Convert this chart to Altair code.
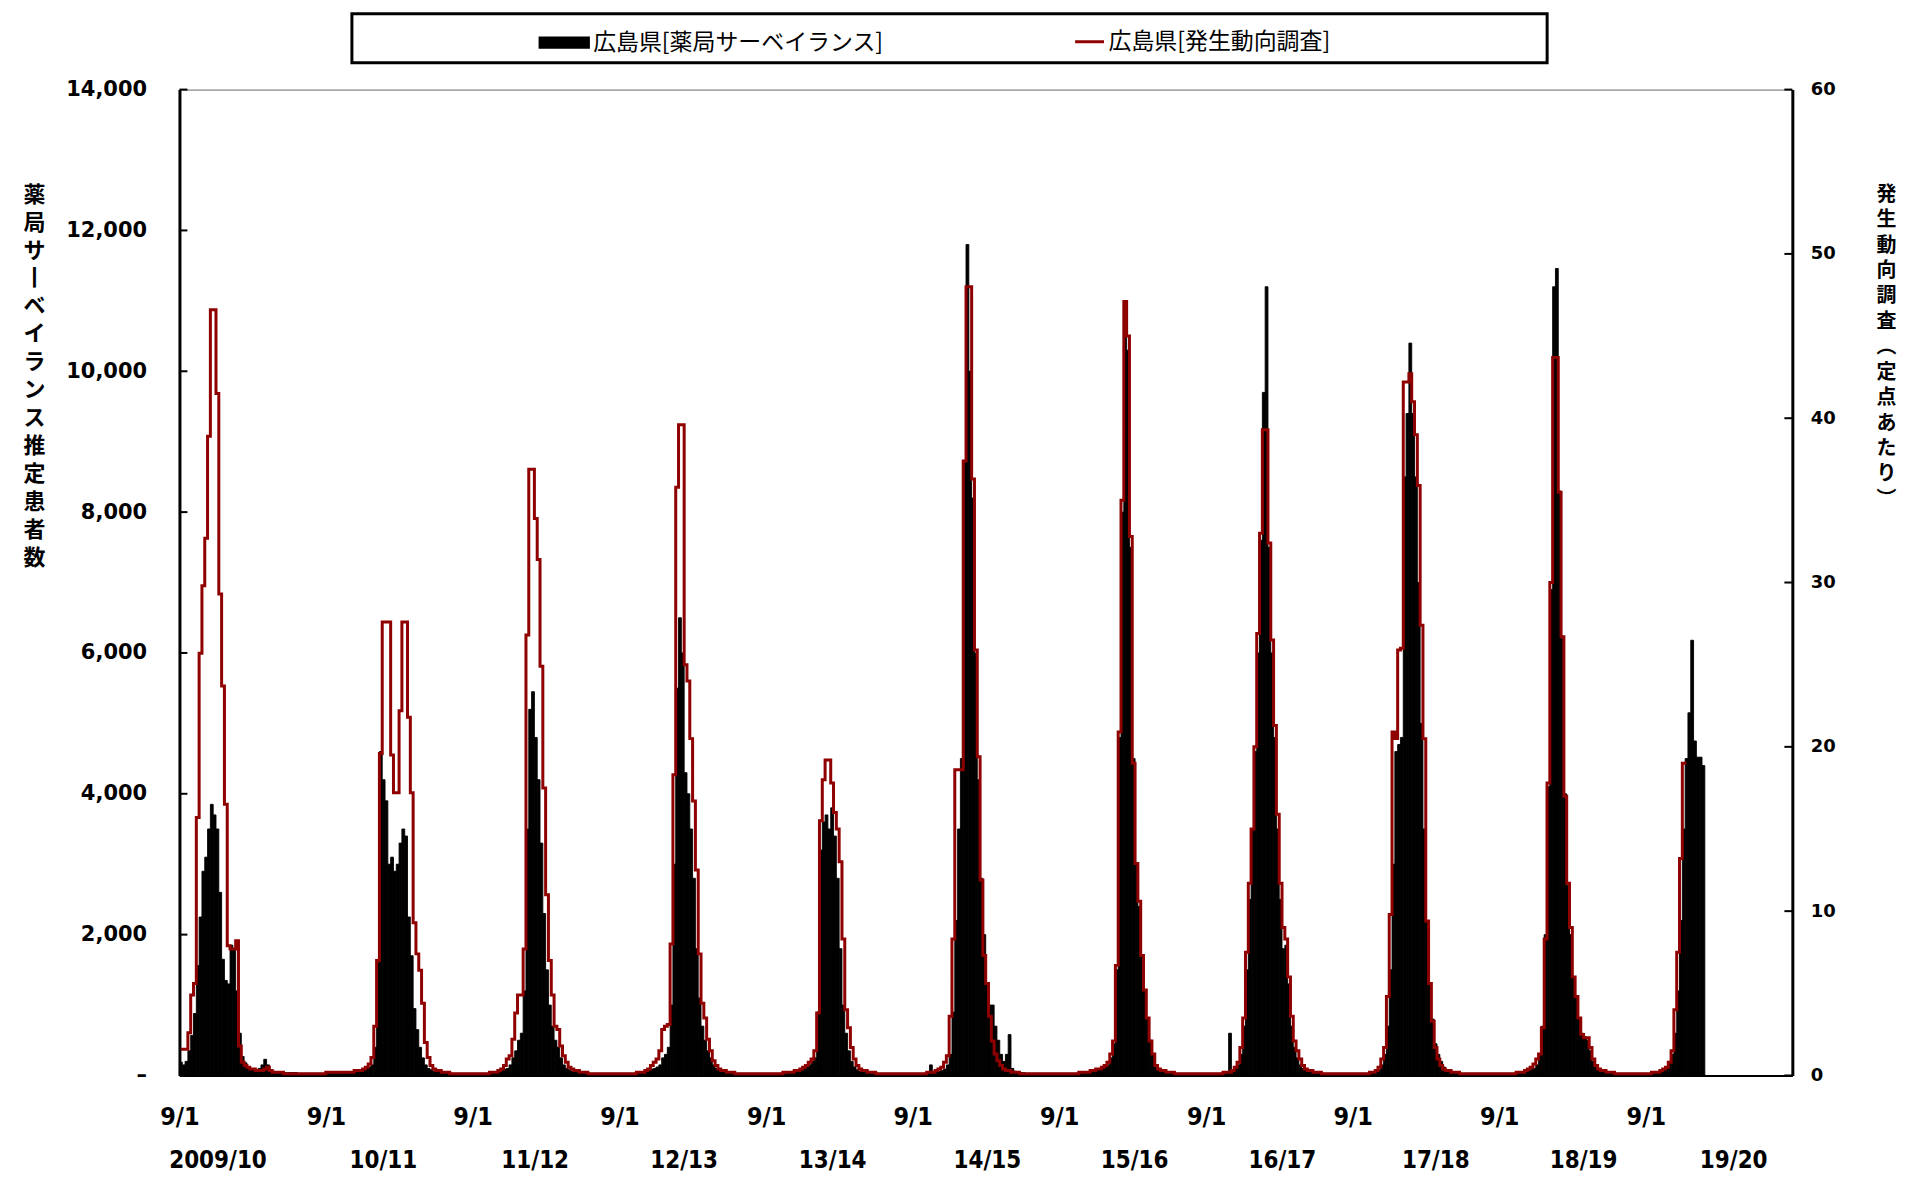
import altair as alt
import pandas as pd

S1 = "広島県[薬局サーベイランス]"
S2 = "広島県[発生動向調査]"

season_years = [2009, 2010, 2011, 2012, 2013, 2014, 2015, 2016, 2017, 2018, 2019]
season_labels = ["2009/10", "10/11", "11/12", "12/13", "13/14", "14/15",
                 "15/16", "16/17", "17/18", "18/19", "19/20"]
season_label_dates = ["2009-12-06", "2011-01-22", "2012-02-04", "2013-02-09", "2014-02-14",
                      "2015-03-06", "2016-03-07", "2017-03-10", "2018-03-27", "2019-03-30",
                      "2020-04-07"]

# weekly values per season, week k starts on Sep 1 + 7k days
pharm_0910 = [190,150,200,350,570,880,1560,2250,2900,3100,3500,3850,3700,3500,2600,1650,1350,1300,1850,1800,1200,600,270,180,120,100,90,80,100,150,230,150,80,60,50,50,40,40,40,40,40,40,30,30,30,30,30,30,30,30,30,30]
pharm_1011 = [30,30,30,30,30,30,40,40,40,40,50,50,60,80,100,120,150,400,1600,4600,4200,3900,3000,3100,2900,3000,3300,3500,3400,2250,1700,950,650,400,250,150,100,80,60,50,50,40,40,40,30,30,30,30,30,30,30,30]
pharm_1112 = [30,30,30,30,30,30,40,40,50,60,70,90,100,150,250,350,500,600,1200,3500,5200,5450,4800,4200,3300,2300,1500,1000,700,500,400,250,150,100,80,60,50,40,40,40,30,30,30,30,30,30,30,30,30,30,30,30]
pharm_1213 = [30,30,30,30,30,30,40,40,50,60,70,90,100,120,150,250,300,400,1000,3000,5500,6500,6000,4300,4000,3500,2800,1800,1100,700,500,350,250,150,100,80,60,50,40,40,30,30,30,30,30,30,30,30,30,30,30,30]
pharm_1314 = [30,30,30,30,30,30,40,40,50,50,60,70,80,100,120,150,200,250,900,3200,3600,3700,3500,3800,3400,2800,1800,1000,600,350,200,120,80,60,50,40,40,30,30,30,30,30,30,30,30,30,30,30,30,30,30,30]
pharm_1415 = [30,30,30,30,30,40,150,40,50,60,70,90,150,300,900,2200,3500,4500,8700,11800,10000,8200,6000,4200,2800,2000,1300,1000,1000,700,500,300,200,300,580,100,60,50,40,40,30,30,30,30,30,30,30,30,30,30,30,30]
pharm_1516 = [30,30,30,30,30,30,30,40,40,40,50,50,60,70,80,100,120,150,250,450,1500,4800,8000,10800,10300,7500,4500,3000,2400,1700,1200,800,500,300,150,100,80,60,50,40,40,30,30,30,30,30,30,30,30,30,30,30]
pharm_1617 = [30,30,30,30,30,30,40,40,600,60,100,150,300,700,1500,2500,3500,4600,6000,7600,9700,11200,7500,6000,4800,3500,2500,1800,1850,1300,700,400,250,150,100,80,60,50,40,40,30,30,30,30,30,30,30,30,30,30,30,30]
pharm_1718 = [30,30,30,30,30,30,40,40,50,80,150,300,700,1500,3000,4600,4700,4800,8500,9400,10400,9400,8500,7000,5000,3500,2200,1300,800,450,300,200,120,80,60,50,40,40,30,30,30,30,30,30,30,30,30,30,30,30,30,30]
pharm_1819 = [30,30,30,30,30,30,40,40,50,60,70,90,100,150,300,700,2000,4100,6900,11200,11460,8300,6200,4000,2700,2000,1400,1100,800,600,550,500,350,200,120,80,60,50,40,40,30,30,30,30,30,30,30,30,30,30,30,30]
pharm_1920 = [30,30,40,40,50,60,80,120,200,300,600,1200,2200,3500,4500,5150,6180,4750,4520,4520,4400]

sent_0910 = [1.6,1.6,1.6,2.6,4.9,5.6,15.7,25.7,29.8,32.7,38.9,46.6,46.6,41.5,29.3,23.7,16.5,7.9,7.7,7.7,8.2,1.8,0.8,0.6,0.5,0.4,0.4,0.3,0.3,0.3,0.4,0.5,0.3,0.2,0.2,0.2,0.2,0.1,0.1,0.1,0.1,0.1,0.1,0.1,0.1,0.1,0.1,0.1,0.1,0.1,0.1,0.1]
sent_1011 = [0.2,0.2,0.2,0.2,0.2,0.2,0.2,0.2,0.2,0.2,0.3,0.3,0.3,0.4,0.5,0.7,1.1,3.0,7.0,19.6,27.6,27.6,27.6,19.5,17.2,17.2,22.2,27.6,27.6,21.8,17.2,9.3,7.4,6.4,4.4,2.0,1.1,0.6,0.4,0.3,0.3,0.2,0.2,0.2,0.1,0.1,0.1,0.1,0.1,0.1,0.1,0.1]
sent_1112 = [0.1,0.1,0.1,0.1,0.1,0.1,0.2,0.2,0.2,0.3,0.4,0.6,1.0,1.2,2.2,3.8,4.9,4.9,7.7,26.8,36.9,36.9,33.9,31.4,24.9,17.5,11.0,7.0,4.9,3.0,2.8,1.8,1.2,0.8,0.5,0.4,0.3,0.3,0.2,0.2,0.2,0.1,0.1,0.1,0.1,0.1,0.1,0.1,0.1,0.1,0.1,0.1]
sent_1213 = [0.1,0.1,0.1,0.1,0.1,0.1,0.2,0.2,0.2,0.3,0.4,0.6,0.8,1.0,1.5,2.8,3.0,3.1,8.0,18.3,35.8,39.6,39.6,25.0,24.0,20.5,16.7,12.5,7.4,4.4,3.5,2.2,1.5,0.9,0.6,0.4,0.3,0.3,0.2,0.2,0.2,0.1,0.1,0.1,0.1,0.1,0.1,0.1,0.1,0.1,0.1,0.1]
sent_1314 = [0.1,0.1,0.1,0.1,0.1,0.1,0.2,0.2,0.2,0.2,0.3,0.3,0.4,0.5,0.6,0.8,1.0,1.5,3.8,15.5,18.0,19.2,19.2,17.8,16.0,15.0,13.0,8.3,4.0,2.9,1.7,1.0,0.6,0.4,0.3,0.3,0.2,0.2,0.2,0.1,0.1,0.1,0.1,0.1,0.1,0.1,0.1,0.1,0.1,0.1,0.1,0.1]
sent_1415 = [0.1,0.1,0.1,0.1,0.1,0.2,0.2,0.2,0.3,0.4,0.5,0.8,1.2,3.6,8.3,18.6,18.6,18.6,37.4,48.0,48.0,36.3,25.9,19.4,11.9,7.3,5.6,3.6,2.1,1.3,0.9,0.6,0.4,0.3,0.3,0.2,0.2,0.2,0.1,0.1,0.1,0.1,0.1,0.1,0.1,0.1,0.1,0.1,0.1,0.1,0.1,0.1]
sent_1516 = [0.1,0.1,0.1,0.1,0.1,0.1,0.1,0.2,0.2,0.2,0.2,0.3,0.3,0.4,0.4,0.5,0.6,0.8,1.3,2.1,6.7,20.9,35.0,47.1,45.0,32.8,19.0,12.9,10.6,7.3,5.2,3.5,2.1,1.3,0.6,0.4,0.3,0.3,0.2,0.2,0.2,0.1,0.1,0.1,0.1,0.1,0.1,0.1,0.1,0.1,0.1,0.1]
sent_1617 = [0.1,0.1,0.1,0.1,0.1,0.1,0.2,0.2,0.2,0.3,0.5,0.8,1.7,3.5,7.5,11.7,15.0,20.0,26.9,33.0,39.3,39.3,32.4,26.5,21.3,15.9,11.7,9.0,8.3,6.0,3.6,2.1,1.5,1.0,0.6,0.4,0.3,0.3,0.2,0.2,0.2,0.1,0.1,0.1,0.1,0.1,0.1,0.1,0.1,0.1,0.1,0.1]
sent_1718 = [0.1,0.1,0.1,0.1,0.1,0.1,0.2,0.2,0.3,0.5,1.0,1.7,4.8,9.8,20.9,20.5,25.9,26.0,42.2,42.2,42.7,41.0,39.0,35.9,27.4,20.5,9.4,5.6,3.3,1.7,1.0,0.6,0.4,0.3,0.3,0.2,0.2,0.2,0.1,0.1,0.1,0.1,0.1,0.1,0.1,0.1,0.1,0.1,0.1,0.1,0.1,0.1]
sent_1819 = [0.1,0.1,0.1,0.1,0.1,0.1,0.2,0.2,0.2,0.3,0.4,0.5,0.7,1.0,1.3,2.9,8.3,17.8,30.0,43.7,43.7,35.5,26.7,17.0,11.7,9.0,6.0,4.8,3.5,2.5,2.3,2.3,1.7,1.0,0.6,0.4,0.3,0.3,0.2,0.2,0.2,0.1,0.1,0.1,0.1,0.1,0.1,0.1,0.1,0.1,0.1,0.1]
sent_1920 = [0.1,0.1,0.2,0.2,0.2,0.3,0.4,0.5,0.8,1.5,4.0,7.5,13.2,19.0,19.0]

pharmacy = [pharm_0910, pharm_1011, pharm_1112, pharm_1213, pharm_1314, pharm_1415,
            pharm_1516, pharm_1617, pharm_1718, pharm_1819, pharm_1920]
sentinel = [sent_0910, sent_1011, sent_1112, sent_1213, sent_1314, sent_1415,
            sent_1516, sent_1617, sent_1718, sent_1819, sent_1920]

left_ticks = [0, 2000, 4000, 6000, 8000, 10000, 12000, 14000]
right_ticks = [0, 10, 20, 30, 40, 50, 60]
left_title = list("薬局サ丨ベイランス推定患者数")
right_title = list("発生動向調査") + ["︵"] + list("定点あたり") + ["︶"]

# ---- tables ----
rows_b, rows_l = [], []
for y, vals in zip(season_years, pharmacy):
    st = pd.Timestamp(year=y, month=9, day=1)
    for k, v in enumerate(vals):
        s = st + pd.Timedelta(days=7 * k)
        rows_b.append({"start": s, "end": s + pd.Timedelta(days=7), "count": v, "series": S1})
for y, vals in zip(season_years, sentinel):
    st = pd.Timestamp(year=y, month=9, day=1)
    for k, v in enumerate(vals):
        s = st + pd.Timedelta(days=7 * k)
        rows_l.append({"mid": s + pd.Timedelta(hours=84), "rate": v, "series": S2})
bars_df = pd.DataFrame(rows_b)
line_df = pd.DataFrame(rows_l)
season_df = pd.DataFrame({"date": pd.to_datetime(season_label_dates), "label": season_labels})
lt_df = pd.DataFrame({"v": left_ticks})
rt_df = pd.DataFrame({"v": right_ticks})

W, H = 1618, 989
NARROW = "'Liberation Sans Narrow', 'DejaVu Sans Condensed', 'Roboto Condensed', 'Liberation Sans', sans-serif"
CJK = "Noto Sans CJK JP"
RED = "#8f0000"

xscale = alt.Scale(domain=[alt.DateTime(year=2009, month=9, date=1),
                           alt.DateTime(year=2020, month=8, date=31)])
xaxis = alt.Axis(values=[alt.DateTime(year=y, month=9, date=1) for y in season_years],
                 format="%-m/%-d", labelFont=NARROW, labelFontSize=25, labelFontWeight="bold",
                 labelColor="black", labelPadding=29, ticks=False, tickSize=0,
                 domainColor="black", domainWidth=2, grid=False, title=None,
                 labelBaseline="top", labelFlush=False, labelOverlap=False)

legend1 = alt.Legend(title=None, orient="none", legendX=360, legendY=-73, direction="horizontal",
                     labelFont=CJK, labelFontSize=23, labelColor="black", symbolSize=2400,
                     symbolType="M-1,-0.2H1V0.2H-1Z", symbolStrokeColor="black",
                     symbolStrokeWidth=2.5, labelLimit=0, labelOffset=3)
legend2 = alt.Legend(title=None, orient="none", legendX=897, legendY=-64, direction="horizontal",
                     labelFont=CJK, labelFontSize=23, labelColor="black", symbolSize=841,
                     symbolType="stroke", symbolStrokeWidth=3, labelLimit=0, labelOffset=3)

bars = alt.Chart(bars_df).mark_rect(stroke="black", strokeWidth=0.9).encode(
    x=alt.X("start:T", scale=xscale, axis=xaxis),
    x2="end:T",
    y=alt.Y("count:Q", scale=alt.Scale(domain=[0, 14000], nice=False),
            axis=alt.Axis(values=left_ticks,
                          labelExpr="datum.value == 0 ? '–' : format(datum.value, ',')",
                          labelFont="DejaVu Sans", labelFontSize=21, labelFontWeight="bold",
                          labelColor="black", labelPadding=33, ticks=False, tickSize=0,
                          domainColor="black", domainWidth=3, grid=False,
                          title=left_title, titleAngle=0, titleAlign="center",
                          titleBaseline="top", titleX=-146, titleY=95, titleFont=CJK,
                          titleFontSize=22, titleFontWeight="bold", titleLineHeight=28,
                          titleColor="black")),
    y2=alt.datum(0),
    fill=alt.Fill("series:N", scale=alt.Scale(domain=[S1], range=["black"]), legend=legend1),
)
lticks = alt.Chart(lt_df).mark_rule(color="black", strokeWidth=2).encode(
    y=alt.Y("v:Q"), x=alt.value(0), x2=alt.value(8))

line = alt.Chart(line_df).mark_line(interpolate="step", strokeWidth=3).encode(
    x=alt.X("mid:T", scale=xscale, axis=xaxis),
    y=alt.Y("rate:Q", scale=alt.Scale(domain=[0, 60], nice=False),
            axis=alt.Axis(orient="right", values=right_ticks,
                          labelFont="DejaVu Sans", labelFontSize=18, labelFontWeight="bold",
                          labelColor="black", labelPadding=18, ticks=False, tickSize=0,
                          domainColor="black", domainWidth=3, grid=False,
                          title=right_title, titleAngle=0, titleAlign="center",
                          titleBaseline="top", titleX=94, titleY=95, titleFont=CJK,
                          titleFontSize=20, titleFontWeight="bold", titleLineHeight=25.5,
                          titleColor="black")),
    stroke=alt.Stroke("series:N", scale=alt.Scale(domain=[S2], range=[RED]), legend=legend2),
)
rticks = alt.Chart(rt_df).mark_rule(color="black", strokeWidth=2).encode(
    y=alt.Y("v:Q"), x=alt.value(W - 8), x2=alt.value(W))

seasons = alt.Chart(season_df).mark_text(font=NARROW, fontSize=24, fontWeight="bold",
                                         color="black", baseline="middle", align="center").encode(
    x=alt.X("date:T", scale=xscale, axis=xaxis),
    y=alt.value(H + 86),
    text="label:N",
)

frame = alt.Chart(pd.DataFrame({"a": [0]})).mark_rect(filled=False, stroke="black", strokeWidth=3).encode(
    x=alt.value(173), x2=alt.value(1372), y=alt.value(-76), y2=alt.value(-27))

left = alt.layer(bars, lticks)
right = alt.layer(line, rticks)
chart = alt.layer(frame, left, right, seasons).resolve_scale(y="independent").properties(
    width=W, height=H,
    padding={"left": 172, "top": 80, "right": 110, "bottom": 97},
    autosize=alt.AutoSizeParams(type="none"),
).configure_view(stroke="#666", strokeWidth=1)

chart.save("out.html", embed_options={"renderer": "svg", "actions": False})
